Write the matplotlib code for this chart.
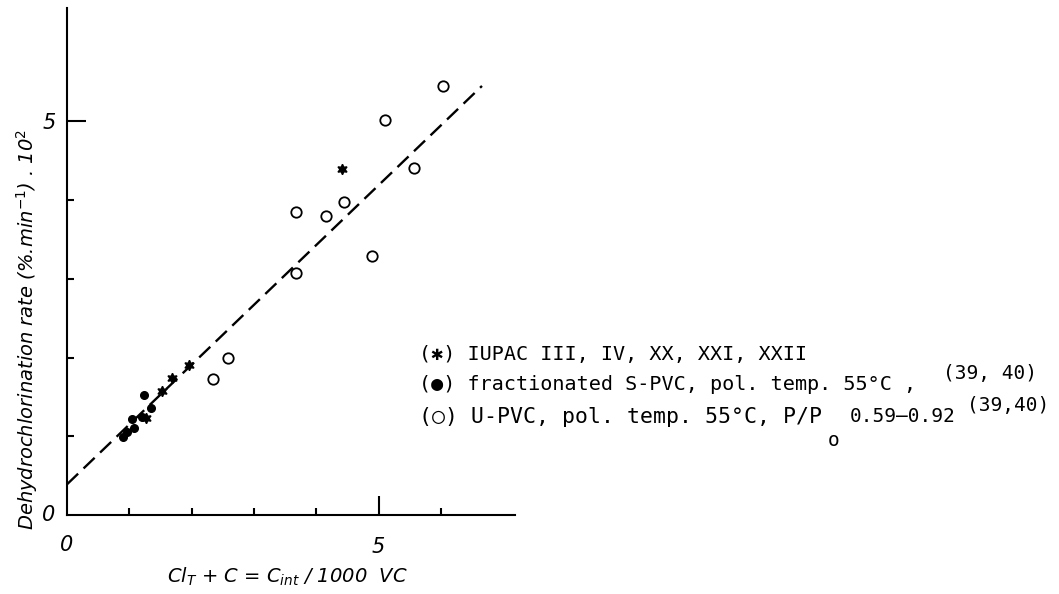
"""Dehydrochlorination rate vs internal chlorine + carbon defects."""

import matplotlib

matplotlib.use("Agg")
import matplotlib.pyplot as plt

# data
iupac_x = [4.42, 1.95, 1.68, 1.52, 1.27]
iupac_y = [4.40, 1.90, 1.74, 1.58, 1.23]

frac_x = [1.24, 1.34, 1.20, 1.05, 1.08, 0.97, 0.90]
frac_y = [1.53, 1.36, 1.24, 1.22, 1.11, 1.06, 0.99]

upvc_x = [6.03, 5.10, 5.57, 4.44, 3.68, 4.16, 4.90, 3.68, 2.59, 2.34]
upvc_y = [5.45, 5.02, 4.41, 3.97, 3.85, 3.80, 3.29, 3.07, 2.00, 1.73]

fit_x = [0.0, 6.66]
fit_y = [0.39, 5.45]

legend_rows = [
    "(\u2731) IUPAC III, IV, XX, XXI, XXII",
    "(\u25cf) fractionated S-PVC, pol. temp. 55\u00b0C ,",
    "(\u25cb) U-PVC, pol. temp. 55\u00b0C, P/P",
]
MONO = ["DejaVu Sans Mono", "DejaVu Sans"]

fig = plt.figure(figsize=(10.59, 5.94), dpi=100)
ax = fig.add_axes([0.0633, 0.133, 0.423, 0.8535])

ax.plot(fit_x, fit_y, color="black", linewidth=1.7, dashes=(6.5, 3.2))
ax.plot(upvc_x, upvc_y, linestyle="none", marker="o", markersize=7.5,
        markerfacecolor="white", markeredgecolor="black", markeredgewidth=1.3)
ax.plot(frac_x, frac_y, linestyle="none", marker="o", markersize=5.5,
        color="black")
ax.plot(iupac_x, iupac_y, linestyle="none", marker=(6, 1, 0), markersize=7.5,
        color="black")

ax.set_xlim(0, 7.19)
ax.set_ylim(0, 6.44)
for side in ("top", "right"):
    ax.spines[side].set_visible(False)
for side in ("left", "bottom"):
    ax.spines[side].set_linewidth(1.5)

ax.set_xticks([5])
ax.set_xticklabels(["5"])
ax.set_xticks([1, 2, 3, 4, 6], minor=True)
ax.set_yticks([5])
ax.set_yticklabels(["5"])
ax.set_yticks([1, 2, 3, 4], minor=True)
ax.tick_params(which="major", direction="in", length=14, width=1.5,
               labelsize=15, pad=8)
ax.tick_params(which="minor", direction="in", length=5, width=1.5)
for lab in ax.get_xticklabels() + ax.get_yticklabels():
    lab.set_fontstyle("italic")
ax.xaxis.set_tick_params(pad=16)

# the zero labels sit a bit away from the origin
ax.text(0, -0.38, "0", ha="center", va="center", fontsize=15,
        style="italic", clip_on=False)
ax.text(-0.3, 0, "0", ha="center", va="center", fontsize=15,
        style="italic", clip_on=False)

fig.text(0.271, 0.029, r"$\mathit{Cl_T}$ + $\mathit{C}$ = $\mathit{C_{int}}$ / 1000  VC",
         ha="center", va="center", fontsize=14, style="italic")
fig.text(0.026, 0.446, r"Dehydrochlorination rate (%.min$^{-1}$) . 10$^2$",
         ha="center", va="center", rotation=90, fontsize=14, style="italic")

# hand-set legend block, as in the original
row_y = [0.4024, 0.3519, 0.298]
row_size = [14.5, 14.5, 15.5]
for text, yy, size in zip(legend_rows, row_y, row_size):
    fig.text(0.3957, yy, text, ha="left", va="center", fontsize=size, family=MONO)
fig.text(0.8905, 0.3704, "(39, 40)", ha="left", va="center", fontsize=14, family=MONO)
fig.text(0.9131, 0.318, "(39,40)", ha="left", va="center", fontsize=14, family=MONO)
fig.text(0.7819, 0.2576, "o", ha="left", va="center", fontsize=14, family=MONO)
fig.text(0.8026, 0.298, "0.59\u20130.92", ha="left", va="center", fontsize=14, family=MONO)

fig.savefig("out.png", dpi=100)
plt.close(fig)
